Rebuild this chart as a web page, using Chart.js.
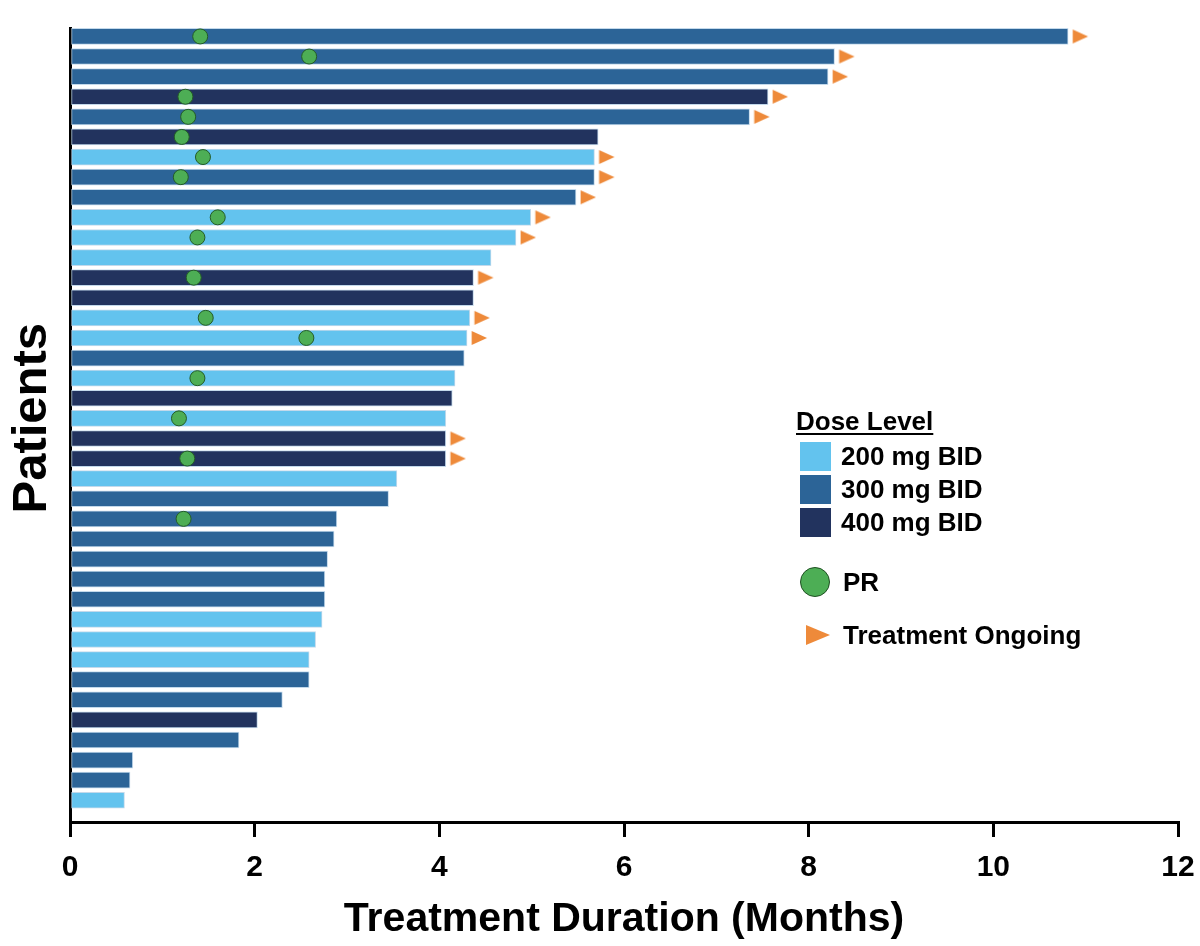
<!DOCTYPE html>
<html>
<head>
<meta charset="utf-8">
<script src="https://cdn.jsdelivr.net/npm/chart.js@4/dist/chart.umd.min.js"></script>
<style>
html,body{margin:0;padding:0;background:#fff;}
#wrap{position:relative;width:1200px;height:946px;overflow:hidden;}
#c{position:absolute;left:0;top:0;}
.lg{position:absolute;font-family:"Liberation Sans",Arial,Helvetica,sans-serif;font-weight:bold;font-size:26px;color:#000;line-height:1;white-space:nowrap;}
.row{position:absolute;display:flex;align-items:center;font-family:"Liberation Sans",Arial,Helvetica,sans-serif;font-weight:bold;font-size:26px;color:#000;white-space:nowrap;}
.sw{position:absolute;width:31px;height:29px;}
</style>
</head>
<body>
<div id="wrap">
<canvas id="c" width="1200" height="946"></canvas>
<div class="lg" style="left:796px;top:408px;text-decoration:underline;text-underline-offset:3px;">Dose Level</div>
<div class="sw" style="left:800px;top:442px;background:#63C3EE;"></div>
<div class="row" style="left:841px;top:442px;height:29px;">200 mg BID</div>
<div class="sw" style="left:800px;top:475px;background:#2C6497;"></div>
<div class="row" style="left:841px;top:475px;height:29px;">300 mg BID</div>
<div class="sw" style="left:800px;top:508px;background:#22335E;"></div>
<div class="row" style="left:841px;top:508px;height:29px;">400 mg BID</div>
<div style="position:absolute;left:800px;top:567px;width:28px;height:28px;border-radius:50%;background:#4DAE55;border:1.5px solid #1F4F22;"></div>
<div class="row" style="left:843px;top:567px;height:31px;">PR</div>
<div style="position:absolute;left:806px;top:625px;width:0;height:0;border-left:24px solid #EE8A3A;border-top:10px solid transparent;border-bottom:10px solid transparent;"></div>
<div class="row" style="left:843px;top:620px;height:30px;">Treatment Ongoing</div>
</div>
<script>
// ---- data ----
const patients = [1,2,3,4,5,6,7,8,9,10,11,12,13,14,15,16,17,18,19,20,21,22,23,24,25,26,27,28,29,30,31,32,33,34,35,36,37,38,39];
const durations = [10.81,8.28,8.21,7.56,7.36,5.72,5.68,5.68,5.48,4.99,4.83,4.56,4.37,4.37,4.33,4.30,4.27,4.17,4.14,4.07,4.07,4.07,3.54,3.45,2.89,2.86,2.79,2.76,2.76,2.73,2.66,2.59,2.59,2.30,2.03,1.83,0.68,0.65,0.59];
const doses = [300,300,300,400,300,400,200,300,300,200,200,200,400,400,200,200,300,200,400,200,400,400,200,300,300,300,300,300,300,200,200,200,300,300,400,300,300,300,200];
const prMonths = [1.41,2.59,null,1.25,1.28,1.21,1.44,1.20,null,1.60,1.38,null,1.34,null,1.47,2.56,null,1.38,null,1.18,null,1.27,null,null,1.23,null,null,null,null,null,null,null,null,null,null,null,null,null,null];
const ongoing = [1,1,1,1,1,0,1,1,1,1,1,0,1,0,1,1,0,0,0,0,1,1,0,0,0,0,0,0,0,0,0,0,0,0,0,0,0,0,0];
const xTicks = [0,2,4,6,8,10,12];

// ---- styles ----
const doseColors = {200:'#63C3EE',300:'#2C6497',400:'#22335E'};
const FONT = '"Liberation Sans", Arial, Helvetica, sans-serif';

function makeArrow(){
  const c = document.createElement('canvas');
  c.width = 42; c.height = 16;
  const g = c.getContext('2d');
  g.fillStyle = '#EE8A3A';
  g.beginPath();
  g.moveTo(25.6, 1); g.lineTo(41, 8); g.lineTo(25.6, 15);
  g.closePath(); g.fill();
  return c;
}

const barData = durations.map((d,i)=>({x:d, y:patients[i]}));
const prData = [];
prMonths.forEach((m,i)=>{ if(m!==null) prData.push({x:m, y:patients[i]}); });
const ongoingData = [];
ongoing.forEach((o,i)=>{ if(o) ongoingData.push({x:durations[i], y:patients[i]}); });

new Chart(document.getElementById('c'), {
  type:'bar',
  data:{
    datasets:[
      {
        type:'scatter', label:'PR', data:prData, order:0,
        pointRadius:7.5, pointHoverRadius:7.5,
        backgroundColor:'#4DAE55', borderColor:'#245B27', borderWidth:1
      },
      {
        type:'scatter', label:'Treatment Ongoing', data:ongoingData, order:1,
        pointStyle:makeArrow(), pointRadius:8
      },
      {
        type:'bar', label:'Dose Level', data:barData, order:2,
        backgroundColor:doses.map(d=>doseColors[d]),
        borderColor:'rgba(185,210,232,0.85)', borderWidth:1, borderSkipped:false,
        barThickness:16
      }
    ]
  },
  options:{
    indexAxis:'y',
    responsive:false,
    devicePixelRatio:1,
    animation:false,
    events:[],
    layout:{padding:{top:28,right:22,left:0,bottom:0}},
    plugins:{legend:{display:false},tooltip:{enabled:false}},
    scales:{
      x:{
        type:'linear', position:'bottom', min:0, max:12,
        afterBuildTicks:(s)=>{ s.ticks = xTicks.map(v=>({value:v})); },
        afterFit:(s)=>{ s.height = 124; s.paddingLeft = 0; s.paddingRight = 0; },
        grid:{display:true, drawOnChartArea:false, drawTicks:true, tickLength:15, color:'#000', lineWidth:3},
        border:{display:true, color:'#000', width:3},
        ticks:{color:'#000', padding:13, font:{family:FONT, size:30, weight:'bold'}},
        title:{display:true, text:'Treatment Duration (Months)', color:'#000',
               font:{family:FONT, size:41, weight:'bold', lineHeight:1.2}, padding:{top:0,bottom:2}}
      },
      y:{
        type:'linear', position:'left', reverse:true, min:0.58, max:40.08, offset:false, z:1,
        afterFit:(s)=>{ s.width = 70; s.paddingTop = 0; s.paddingBottom = 0; },
        grid:{display:false, offset:false},
        border:{display:true, color:'#000', width:3},
        ticks:{display:false},
        title:{display:true, text:' Patients', color:'#000',
               font:{family:FONT, size:49, weight:'bold', lineHeight:1.2}, padding:{top:3,bottom:0}}
      }
    }
  }
});
</script>
</body>
</html>
